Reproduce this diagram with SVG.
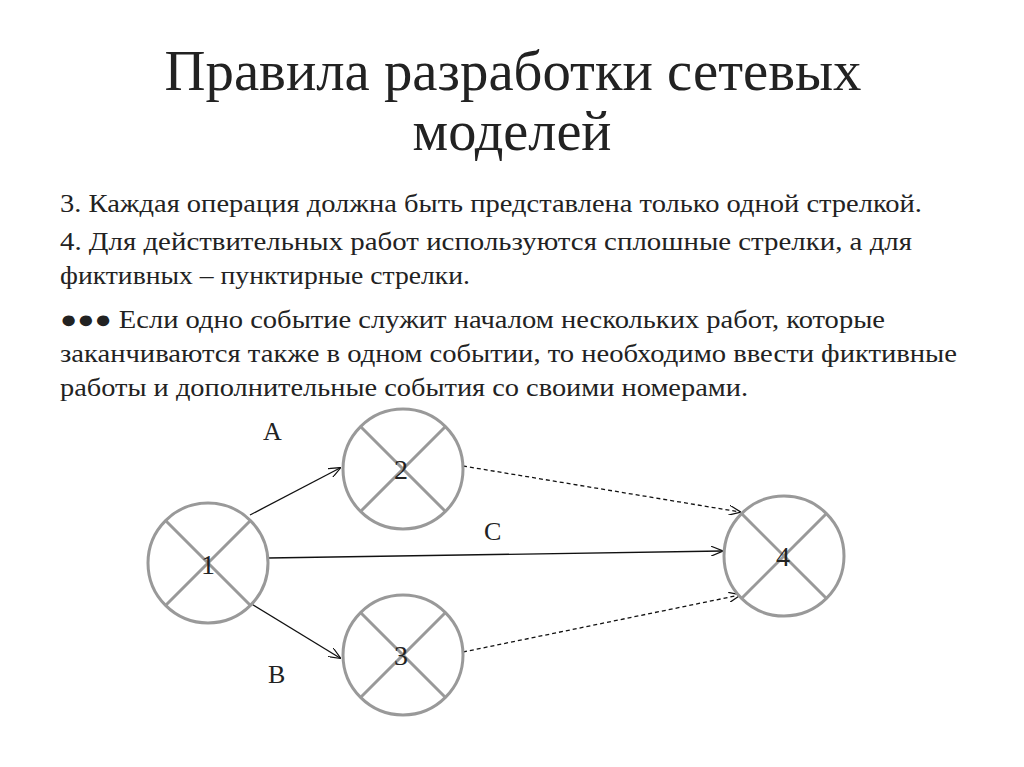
<svg xmlns="http://www.w3.org/2000/svg" width="1024" height="767" viewBox="0 0 1024 767">
<style>
text{font-family:"Liberation Serif","Times New Roman",serif;fill:#222}
.t{font-size:58px;text-anchor:middle}
.b{font-size:25px}
.n circle{fill:#fff;stroke:#999;stroke-width:3}
.n line{stroke:#999;stroke-width:3}
.n text{font-size:28px}
.c line{stroke:#111;stroke-width:1.3;marker-end:url(#a)}
.d{stroke-dasharray:4 3}
</style>
<defs><marker id="a" markerWidth="12" markerHeight="10" refX="11" refY="5" orient="auto" markerUnits="userSpaceOnUse"><path d="M0,0 L12,5 L0,10" fill="none" stroke="#111" stroke-width="1.2"/></marker></defs>
<rect width="1024" height="767" fill="#fff"/>
<text class="t" x="513" y="90" textLength="697" lengthAdjust="spacingAndGlyphs">Правила разработки сетевых</text>
<text class="t" x="512" y="150" textLength="199" lengthAdjust="spacingAndGlyphs">моделей</text>
<text class="b" x="60" y="212" textLength="862" lengthAdjust="spacingAndGlyphs">3. Каждая операция должна быть представлена только одной стрелкой.</text>
<text class="b" x="60" y="250" textLength="852" lengthAdjust="spacingAndGlyphs">4. Для действительных работ используются сплошные стрелки, а для</text>
<text class="b" x="60" y="284" textLength="410" lengthAdjust="spacingAndGlyphs">фиктивных – пунктирные стрелки.</text>
<text class="b" x="60" y="328" textLength="825" lengthAdjust="spacingAndGlyphs">●●● Если одно событие служит началом нескольких работ, которые</text>
<text class="b" x="60" y="362" textLength="897" lengthAdjust="spacingAndGlyphs">заканчиваются также в одном событии, то необходимо ввести фиктивные</text>
<text class="b" x="60" y="396" textLength="688" lengthAdjust="spacingAndGlyphs">работы и дополнительные события со своими номерами.</text>
<g class="c">
<line x1="250" y1="515" x2="340" y2="468"/>
<line x1="250" y1="603" x2="340" y2="658"/>
<line x1="268" y1="558" x2="722" y2="551"/>
<line class="d" x1="463" y1="466" x2="740" y2="512"/>
<line class="d" x1="463" y1="652" x2="740" y2="595"/>
</g>
<text class="b" style="font-size:26px" x="263" y="440">A</text>
<text class="b" style="font-size:26px" x="484" y="540">C</text>
<text class="b" style="font-size:26px" x="268" y="683">B</text>
<g id="n1" class="n"><circle cx="208" cy="563" r="60"/><line x1="166" y1="521" x2="250" y2="605"/><line x1="250" y1="521" x2="166" y2="605"/><text x="201" y="574">1</text></g>
<g id="n2" class="n"><circle cx="403" cy="469" r="60"/><line x1="361" y1="427" x2="445" y2="511"/><line x1="445" y1="427" x2="361" y2="511"/><text x="394" y="479">2</text></g>
<g id="n3" class="n"><circle cx="403" cy="655" r="60"/><line x1="361" y1="613" x2="445" y2="697"/><line x1="445" y1="613" x2="361" y2="697"/><text x="394" y="665">3</text></g>
<g id="n4" class="n"><circle cx="784" cy="556" r="60"/><line x1="742" y1="514" x2="826" y2="598"/><line x1="826" y1="514" x2="742" y2="598"/><text x="776" y="566">4</text></g>
</svg>
